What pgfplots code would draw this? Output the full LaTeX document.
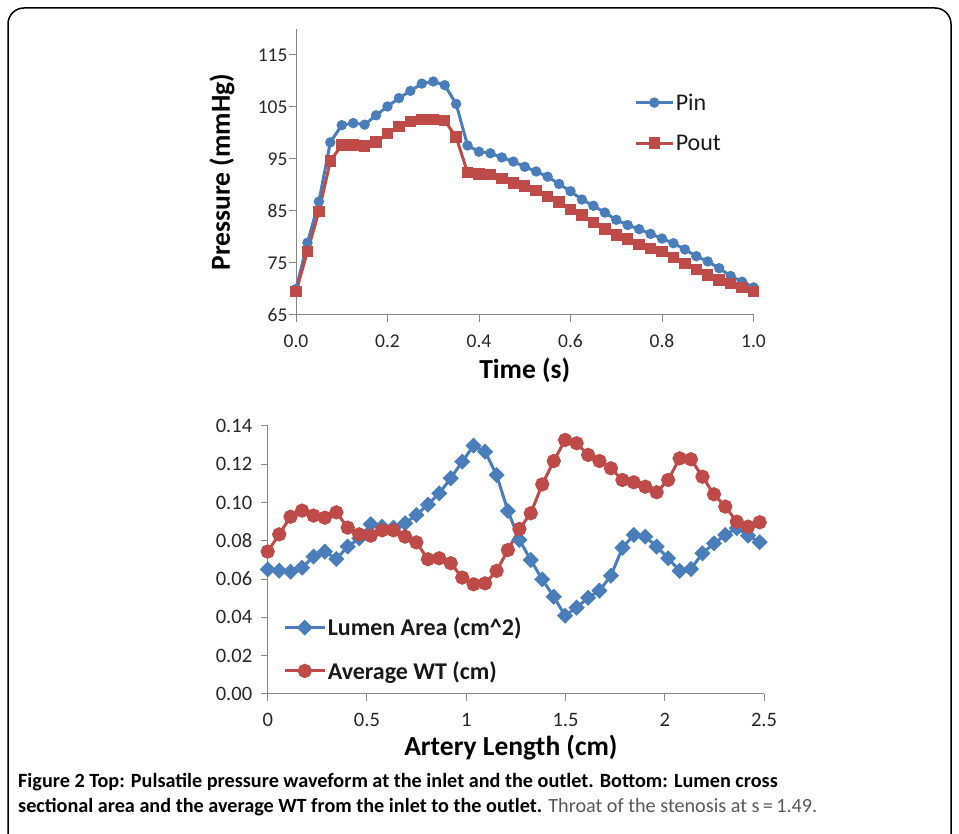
\documentclass[border=0pt]{standalone}
\usepackage{pgfplots}
\pgfplotsset{compat=1.18}
\usepackage{fontspec}
\setmainfont{Carlito}

\definecolor{xlblue}{HTML}{4A7EBB}
\definecolor{xlred}{HTML}{BE4B48}
\definecolor{axgray}{HTML}{868686}

% pressure waveform, t in s, p in mmHg
\pgfplotstableread{
t     pin    pout
0.000 70.0   69.5
0.025 78.9   77.2
0.050 86.8   84.9
0.075 98.2   94.6
0.100 101.5  97.7
0.125 101.9  97.7
0.150 101.6  97.5
0.175 103.4  98.3
0.200 105.1  99.9
0.225 106.7  101.2
0.250 108.1  102.2
0.275 109.5  102.6
0.300 109.9  102.6
0.325 109.2  102.4
0.350 105.6  99.2
0.375 97.6   92.4
0.400 96.4   92.1
0.425 96.1   92.0
0.450 95.3   91.3
0.475 94.5   90.4
0.500 93.5   89.8
0.525 92.6   88.9
0.550 91.6   87.8
0.575 90.2   86.7
0.600 88.8   85.3
0.625 87.2   84.2
0.650 86.0   82.8
0.675 84.7   81.5
0.700 83.3   80.4
0.725 82.3   79.6
0.750 81.5   78.6
0.775 80.6   77.8
0.800 79.7   77.2
0.825 78.8   76.1
0.850 77.6   74.9
0.875 76.3   73.8
0.900 75.3   72.7
0.925 74.0   71.7
0.950 72.5   71.1
0.975 71.4   70.3
1.000 70.3   69.5
}\pressure

% lumen area and wall thickness along the artery
\pgfplotstableread{
s     area    wt
0.000 0.0651  0.0744
0.058 0.0644  0.0834
0.115 0.0639  0.0926
0.173 0.0660  0.0958
0.231 0.0718  0.0932
0.288 0.0744  0.0921
0.346 0.0705  0.0949
0.403 0.0770  0.0869
0.461 0.0813  0.0834
0.519 0.0887  0.0827
0.576 0.0874  0.0855
0.634 0.0869  0.0855
0.692 0.0892  0.0822
0.749 0.0935  0.0792
0.807 0.0989  0.0704
0.864 0.1048  0.0709
0.922 0.1127  0.0683
0.980 0.1214  0.0608
1.037 0.1297  0.0573
1.095 0.1266  0.0578
1.153 0.1144  0.0643
1.210 0.0956  0.0752
1.268 0.0805  0.0862
1.325 0.0700  0.0944
1.383 0.0599  0.1095
1.441 0.0508  0.1217
1.498 0.0409  0.1327
1.556 0.0451  0.1310
1.614 0.0503  0.1249
1.671 0.0540  0.1217
1.729 0.0618  0.1179
1.787 0.0764  0.1118
1.844 0.0831  0.1106
1.902 0.0822  0.1083
1.959 0.0770  0.1054
2.017 0.0709  0.1118
2.075 0.0643  0.1231
2.132 0.0653  0.1226
2.190 0.0735  0.1135
2.248 0.0787  0.1043
2.305 0.0831  0.0979
2.363 0.0866  0.0900
2.420 0.0827  0.0874
2.478 0.0793  0.0897
}\artery

\pgfplotsset{
  xlstyle/.style={
    scale only axis,
    axis lines=left,
    axis line style={-, draw=axgray, line width=1pt},
    tick align=outside,
    major tick length=7pt,
    tick style={draw=axgray, line width=1pt},
    ticklabel style={font=\fontsize{19.5}{22}\selectfont, text=black!85},
    xticklabel style={yshift=-9pt},
    clip=false,
    legend cell align=left,
    legend style={draw=none, fill=none, inner sep=0pt,
      nodes={inner sep=1.5pt, text=black!90}},
  },
}

\begin{document}
\begin{tikzpicture}
\path[use as bounding box] (0pt,0pt) rectangle (959pt,834pt);
\begin{scope}
  \clip (0pt,0pt) rectangle (959pt,834pt);
  \draw[line width=1.5pt, rounded corners=16pt] (8pt,826pt) rectangle (951pt,-40pt);
\end{scope}

% top: pressure
\begin{axis}[xlstyle,
  at={(296pt,519pt)}, anchor=south west,
  width=457.5pt, height=286pt,
  xmin=0, xmax=1, ymin=65, ymax=120,
  xtick={0,0.2,0.4,0.6,0.8,1}, xticklabels={0.0,0.2,0.4,0.6,0.8,1.0},
  ytick={65,75,85,95,105,115}, yticklabels={65,75,85,95,105,115},
  yticklabel style={xshift=2pt},
  xlabel={Time (s)}, ylabel={Pressure (mmHg)},
  every axis x label/.style={at={(axis description cs:0.5,-0.192)}, anchor=center,
    font=\fontsize{27.5}{30}\selectfont\bfseries},
  every axis y label/.style={at={(axis description cs:-0.162,0.5)}, rotate=90, anchor=center,
    font=\fontsize{27.5}{30}\selectfont\bfseries},
  legend style={at={(axis description cs:0.739,0.78)}, anchor=north west,
    font=\fontsize{24}{28}\selectfont, row sep=20pt},
  legend image code/.code={\draw[mark repeat=2,mark phase=2,#1]
    plot coordinates {(0pt,0pt) (18.5pt,0pt) (37pt,0pt)};},
]
\addplot[xlblue, line width=3pt, mark=*, mark size=3.6pt,
  mark options={solid, fill=xlblue}] table[x=t, y=pin] {\pressure};
\addlegendentry{Pin}
\addplot[xlred, line width=3pt, mark=square*, mark size=4.2pt,
  mark options={solid, fill=xlred}] table[x=t, y=pout] {\pressure};
\addlegendentry{Pout}
\end{axis}

% bottom: lumen area and wall thickness
\begin{axis}[xlstyle,
  at={(267.7pt,140pt)}, anchor=south west,
  width=496.3pt, height=268pt,
  xmin=0, xmax=2.5, ymin=0, ymax=0.14,
  xtick={0,0.5,1,1.5,2,2.5}, xticklabels={0,0.5,1,1.5,2,2.5},
  ytick={0,0.02,0.04,0.06,0.08,0.10,0.12,0.14},
  yticklabels={0.00,0.02,0.04,0.06,0.08,0.10,0.12,0.14},
  ticklabel style={font=\fontsize{20.5}{23}\selectfont},
  yticklabel style={xshift=-5pt},
  xlabel={Artery Length (cm)},
  every axis x label/.style={at={(axis description cs:0.49,-0.2015)}, anchor=center,
    font=\fontsize{27.5}{30}\selectfont\bfseries},
  legend style={at={(axis description cs:0.031,0.29)}, anchor=north west,
    font=\fontsize{24}{28}\selectfont\bfseries, row sep=21pt},
  legend image code/.code={\draw[mark repeat=2,mark phase=2,#1]
    plot coordinates {(0pt,0pt) (20pt,0pt) (40pt,0pt)};},
]
\addplot[xlblue, line width=3pt, mark=square*, mark size=4.2pt,
  mark options={solid, fill=xlblue, rotate=45}] table[x=s, y=area] {\artery};
\addlegendentry{Lumen Area (cm\^{}2)}
\addplot[xlred, line width=3pt, mark=*, mark size=5.6pt,
  mark options={solid, fill=xlred}] table[x=s, y=wt] {\artery};
\addlegendentry{Average WT (cm)}
\end{axis}

% caption
\node[anchor=base west, inner sep=0pt, font=\fontsize{20.2}{24}\selectfont]
  at (18pt,46pt) {\textbf{Figure 2 Top: Pulsatile pressure waveform at the inlet and the outlet. Bottom: Lumen cross}};
\node[anchor=base west, inner sep=0pt, font=\fontsize{20.2}{24}\selectfont]
  at (18pt,21pt) {\textbf{sectional area and the average WT from the inlet to the outlet.} \textcolor{black!65}{Throat of the stenosis at s\,=\,1.49.}};
\end{tikzpicture}
\end{document}
